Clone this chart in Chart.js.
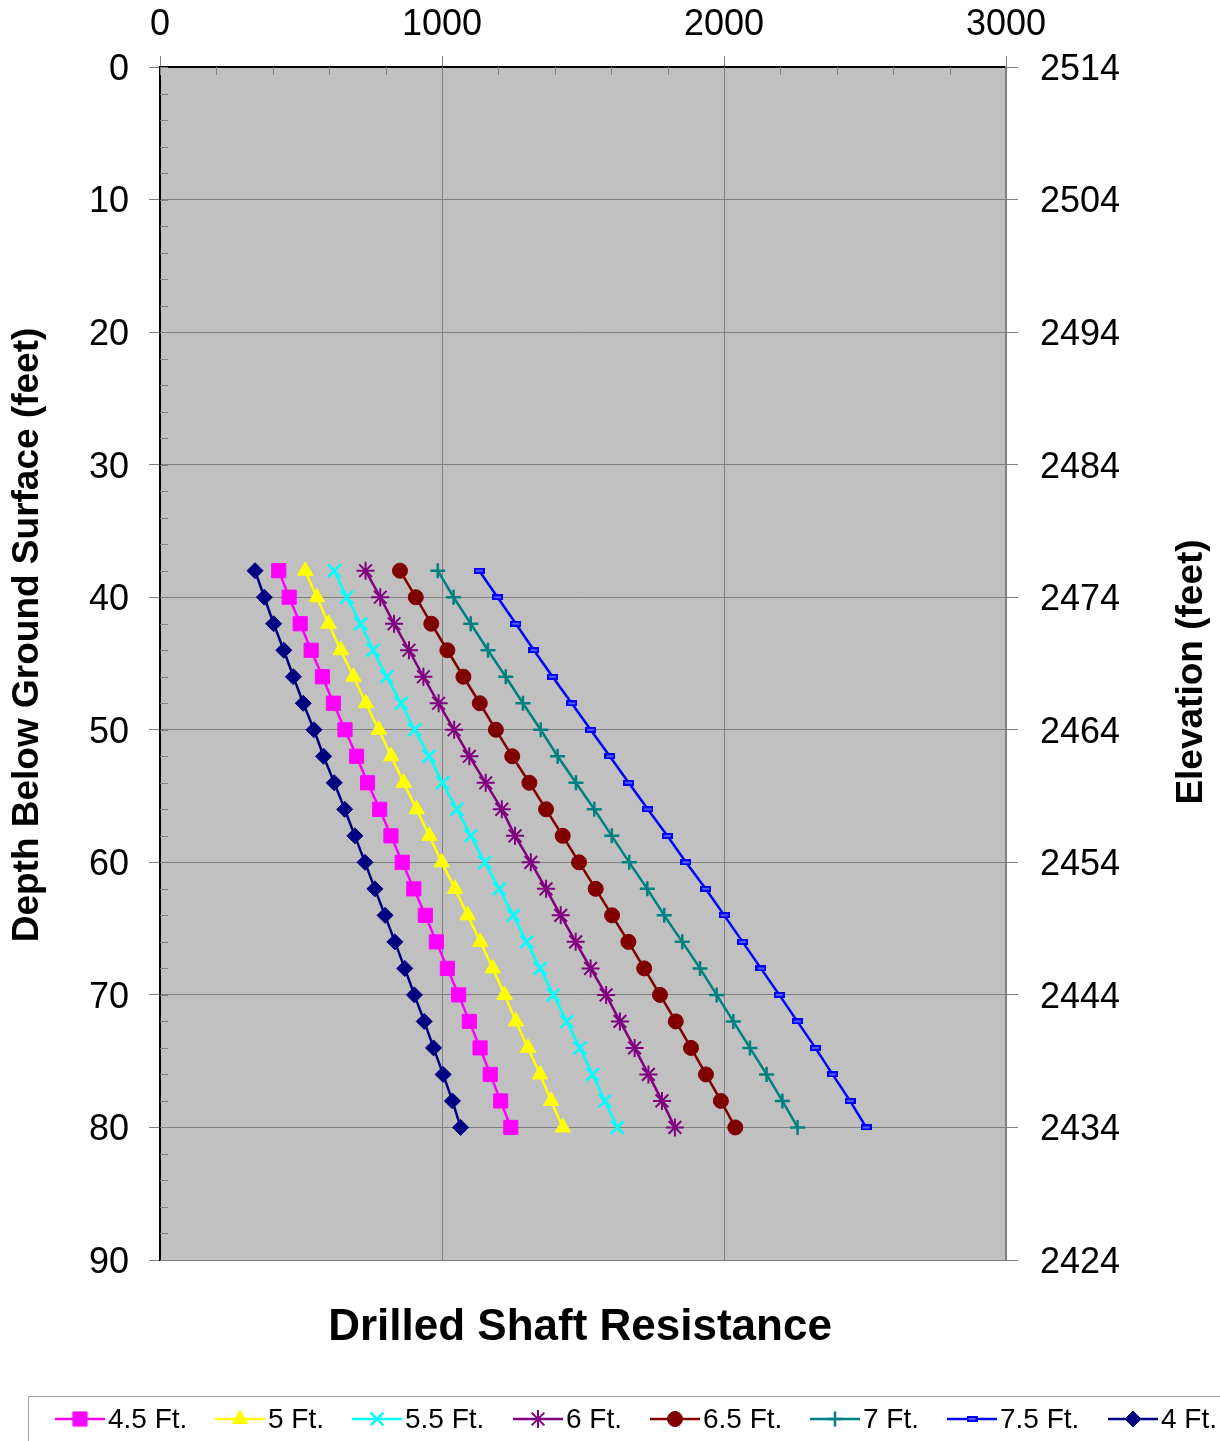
<!DOCTYPE html>
<html>
<head>
<meta charset="utf-8">
<script src="https://cdn.jsdelivr.net/npm/chart.js@4.4.1/dist/chart.umd.min.js"></script>
<style>
html,body{margin:0;padding:0;background:#fff;}
#wrap{width:1220px;height:1441px;}
</style>
</head>
<body>
<div id="wrap"><canvas id="c" width="1220" height="1441"></canvas></div>
<script>
// ---- data ----
const depths = [38,40,42,44,46,48,50,52,54,56,58,60,62,64,66,68,70,72,74,76,78,80];
const s45 = [421,458,497,536,576,615,656,697,736,779,819,859,900,941,980,1019,1059,1097,1135,1171,1208,1244];
const s5  = [515,556,598,641,686,730,776,820,864,910,955,999,1046,1091,1136,1180,1222,1262,1305,1348,1387,1429];
const s55 = [618,662,712,756,804,855,903,954,1002,1053,1102,1152,1203,1253,1300,1348,1395,1442,1489,1534,1578,1622];
const s6  = [729,781,830,883,934,988,1043,1097,1155,1212,1259,1315,1369,1421,1474,1527,1582,1631,1683,1732,1780,1826];
const s65 = [851,907,962,1019,1076,1134,1191,1249,1310,1369,1428,1486,1545,1603,1661,1717,1773,1829,1883,1936,1989,2040];
const s7  = [985,1041,1102,1163,1226,1287,1350,1410,1475,1540,1602,1664,1728,1788,1852,1915,1974,2033,2092,2151,2207,2261];
const s75 = [1132,1197,1262,1326,1392,1460,1527,1595,1662,1730,1799,1865,1935,2001,2066,2131,2196,2260,2324,2385,2447,2504];
const s4  = [337,370,403,439,473,508,546,580,618,655,691,727,762,798,833,868,902,937,970,1004,1037,1066];
const seriesNames = ['4.5 Ft.','5 Ft.','5.5 Ft.','6 Ft.','6.5 Ft.','7 Ft.','7.5 Ft.','4 Ft.'];
const xTicks = [0,1000,2000,3000];
const depthTicks = [0,10,20,30,40,50,60,70,80,90];
const surfaceElevation = 2514;
const xTitle = 'Drilled Shaft Resistance';
const yTitle = 'Depth Below Ground Surface (feet)';
const y2Title = 'Elevation (feet)';

// ---- styles ----
const FONT = 'Arial, "Liberation Sans", sans-serif';
const legendX = [55,215,352,513,650,810,947,1108];
const dash = document.createElement('canvas');
dash.width = 11; dash.height = 6;
(function(){const g=dash.getContext('2d');g.fillStyle='#5a5aff';g.fillRect(0,0,11,6);g.strokeStyle='#0000ff';g.lineWidth=2;g.strokeRect(1,1,9,4);})();

const styles = [
  {c:'#FF00FF', p:'rect', r:10, bw:1},
  {c:'#FFFF00', p:'triangle', r:9, bw:1},
  {c:'#00FFFF', p:'crossRot', r:9, bw:2.5},
  {c:'#800080', p:'star', r:9, bw:2},
  {c:'#800000', p:'circle', r:7.5, bw:1},
  {c:'#008080', p:'cross', r:7.5, bw:2.5},
  {c:'#0000FF', p:dash, r:5, bw:1},
  {c:'#000080', p:'rectRot', r:8, bw:1}
];
const allSeries = [s45,s5,s55,s6,s65,s7,s75,s4];

const datasets = allSeries.map((arr,i)=>({
  label: seriesNames[i],
  data: arr.map((v,k)=>({x:v, y:depths[k]})),
  borderColor: styles[i].c,
  backgroundColor: styles[i].c,
  borderWidth: 2.5,
  pointStyle: styles[i].p,
  pointRadius: styles[i].r,
  pointBorderWidth: styles[i].bw,
  tension: 0,
  fill: false
}));

const bgPlugin = {
  id:'bg',
  beforeDraw(chart){
    const {ctx, chartArea:a} = chart;
    ctx.save();
    ctx.fillStyle='#fff';
    ctx.fillRect(0,0,chart.width,chart.height);
    ctx.fillStyle='#C0C0C0';
    ctx.fillRect(a.left,a.top,a.right-a.left,a.bottom-a.top);
    ctx.restore();
  },
  beforeDatasetsDraw(chart){
    const {ctx, chartArea:a, scales} = chart;
    ctx.save();
    ctx.strokeStyle='#808080';
    ctx.lineWidth=1;
    ctx.beginPath();
    ctx.moveTo(a.left, a.bottom+0.5); ctx.lineTo(a.right, a.bottom+0.5);
    ctx.stroke();
    for(let v=0; v<=3000; v+=200){
      const x=Math.round(scales.x.getPixelForValue(v))+0.5;
      ctx.beginPath(); ctx.moveTo(x,a.top); ctx.lineTo(x,a.top+8); ctx.stroke();
    }
    for(let v=0; v<=90; v+=2){
      const y=Math.round(scales.y.getPixelForValue(v))+0.5;
      ctx.beginPath(); ctx.moveTo(a.left,y); ctx.lineTo(a.left+8,y); ctx.stroke();
    }
    ctx.restore();
  },
  afterDraw(chart){
    const {ctx} = chart;
    ctx.save();
    ctx.fillStyle='#000';
    ctx.textAlign='center';
    ctx.textBaseline='middle';
    ctx.font='bold 37px '+FONT;
    ctx.save(); ctx.translate(28,635); ctx.rotate(-Math.PI/2); ctx.fillText(yTitle,0,0); ctx.restore();
    ctx.save(); ctx.translate(1192,672); ctx.rotate(-Math.PI/2); ctx.fillText(y2Title,0,0); ctx.restore();
    ctx.font='bold 44px '+FONT;
    ctx.fillText(xTitle,580,1328);
    // legend
    ctx.strokeStyle='#a0a0a0'; ctx.lineWidth=1;
    ctx.beginPath(); ctx.moveTo(28.5,1441); ctx.lineTo(28.5,1396.5); ctx.lineTo(1220,1396.5); ctx.stroke();
    ctx.font='28px '+FONT;
    ctx.textAlign='left';
    const ly=1419;
    chart.data.datasets.forEach((ds,i)=>{
      const x = legendX[i];
      ctx.strokeStyle=ds.borderColor; ctx.lineWidth=2.5;
      ctx.beginPath(); ctx.moveTo(x,ly); ctx.lineTo(x+50,ly); ctx.stroke();
      ctx.fillStyle=ds.backgroundColor; ctx.strokeStyle=ds.borderColor; ctx.lineWidth=ds.pointBorderWidth;
      Chart.helpers.drawPoint(ctx,{pointStyle:ds.pointStyle,radius:ds.pointRadius,rotation:0,borderWidth:ds.pointBorderWidth},x+25,ly);
      ctx.fillStyle='#000';
      ctx.fillText(ds.label,x+53,ly+1);
    });
    ctx.restore();
  }
};

new Chart(document.getElementById('c'), {
  type:'line',
  data:{datasets},
  plugins:[bgPlugin],
  options:{
    responsive:false,
    animation:false,
    layout:{padding:{top:0,bottom:181,left:0,right:0}},
    plugins:{legend:{display:false},tooltip:{enabled:false}},
    scales:{
      x:{
        type:'linear', position:'top', min:0, max:3000,
        afterBuildTicks(s){ s.ticks = xTicks.map(v=>({value:v})); },
        afterFit(s){ s.height=67; },
        ticks:{font:{size:36,family:FONT}, color:'#000', padding:9, maxRotation:0, callback:(v)=>String(v)},
        grid:{color:'#808080', lineWidth:1, tickLength:11, tickColor:'#808080'},
        border:{display:true,color:'#000',width:2}
      },
      y:{
        type:'linear', position:'left', reverse:true, min:0, max:90,
        afterBuildTicks(s){ s.ticks = depthTicks.map(v=>({value:v})); },
        afterFit(s){ s.width=160; },
        ticks:{font:{size:36,family:FONT}, color:'#000', padding:20, labelOffset:3, callback:(v)=>String(v)},
        grid:{color:'#808080', lineWidth:1, tickLength:11, tickColor:'#808080'},
        border:{display:true,color:'#000',width:2}
      },
      y2:{
        type:'linear', position:'right', reverse:true, min:0, max:90,
        afterBuildTicks(s){ s.ticks = depthTicks.map(v=>({value:v})); },
        afterFit(s){ s.width=214; },
        ticks:{font:{size:36,family:FONT}, color:'#000', padding:22, labelOffset:3, callback:(v)=>String(surfaceElevation - v)},
        grid:{drawOnChartArea:false, color:'#808080', lineWidth:1, tickLength:12, tickColor:'#808080'},
        border:{display:true,color:'#808080',width:2}
      }
    }
  }
});
</script>
</body>
</html>
